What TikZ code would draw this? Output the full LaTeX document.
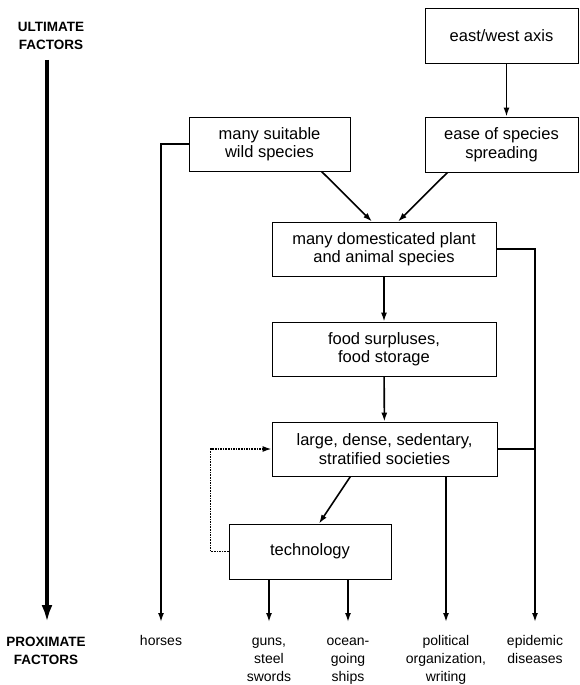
\documentclass[tikz,border=0pt]{standalone}
\usepackage{fontspec}
\setmainfont{Liberation Sans}
\usepackage{tikz}
\usetikzlibrary{arrows.meta,calc}

\begin{document}
\begin{tikzpicture}[x=1pt,y=-1pt,
	factor/.style={draw,line width=0.8pt,rectangle,align=center,inner sep=0pt,font=\fontsize{16.5}{18.5}\selectfont},
	flow/.style={line width=1.6pt,-{Latex[length=9pt,width=6pt]}},
	link/.style={line width=1.6pt},
	feedback/.style={line width=1.6pt,densely dotted,-{Latex[length=9pt,width=6pt]}},
	outcome/.style={anchor=north,inner sep=0pt,align=center,font=\fontsize{14}{18}\selectfont},
	heading/.style={inner sep=0pt,align=center,font=\fontsize{13.5}{18}\selectfont\bfseries}]
	\useasboundingbox (0,0) rectangle (580,685);
	% time axis on the left
	\node[heading] (ultimate) at (51,36) {ULTIMATE\\FACTORS};
	\node[heading] (proximate) at (46,651) {PROXIMATE\\FACTORS};
	\coordinate (axis top) at (47,60);
	\coordinate (axis end) at (47,622);
	\draw[line width=3.5pt,-{Latex[length=17pt,width=11pt]}] (axis top) -- (axis end);
	% boxes
	\node[factor,minimum width=153pt,minimum height=55pt] (eastwest) at (501.5,35.5) {east/west axis};
	\node[factor,minimum width=153pt,minimum height=55pt] (ease) at (501.5,144.5) {ease of species\\spreading};
	\node[factor,minimum width=161pt,minimum height=54pt] (wild) at (269.5,144) {many suitable\\wild species};
	\node[factor,minimum width=224pt,minimum height=54pt] (domestic) at (384,249) {many domesticated plant\\and animal species};
	\node[factor,minimum width=224pt,minimum height=54pt] (food) at (384,349) {food surpluses,\\food storage};
	\node[factor,minimum width=225pt,minimum height=54pt] (societies) at (384.5,449) {large, dense, sedentary,\\stratified societies};
	\node[factor,minimum width=162pt,minimum height=55pt] (technology) at (310,551.5) {technology};
	% proximate outcomes
	\node[outcome] (horses) at (161,633) {\strut horses};
	\node[outcome] (guns) at (269,633) {\strut guns,\\steel\\swords};
	\node[outcome] (ships) at (348,633) {\strut ocean-\\going\\ships};
	\node[outcome] (political) at (446,633) {\strut political\\organization,\\writing};
	\node[outcome] (epidemic) at (535,633) {\strut epidemic\\diseases};
	% arrows
	\draw[flow] ([xshift=5pt]eastwest.south) -- ([xshift=5pt]ease.north);
	\draw[flow] ([xshift=52pt]wild.south) -- ([xshift=-12pt]domestic.north);
	\draw[flow] ([xshift=-54pt]ease.south) -- ([xshift=14pt]domestic.north);
	\draw[flow] (domestic) -- (food);
	\draw[flow] (food) -- (societies);
	\draw[flow] ([xshift=-34pt]societies.south) -- ([xshift=9pt]technology.north);
	\draw[feedback] (technology.west) -- ++(-18,0) |- (societies.west);
	\draw[flow,shorten >=11pt] (wild.west) -| (horses.north);
	\draw[flow,shorten >=11pt] (technology.south -| guns.north) -- (guns.north);
	\draw[flow,shorten >=11pt] (technology.south -| ships.north) -- (ships.north);
	\draw[flow,shorten >=11pt] (societies.south -| political.north) -- (political.north);
	\draw[flow,shorten >=11pt] (domestic.east) -| (epidemic.north);
	\draw[link] (societies.east) -- (societies.east -| epidemic.north);
\end{tikzpicture}
\end{document}
